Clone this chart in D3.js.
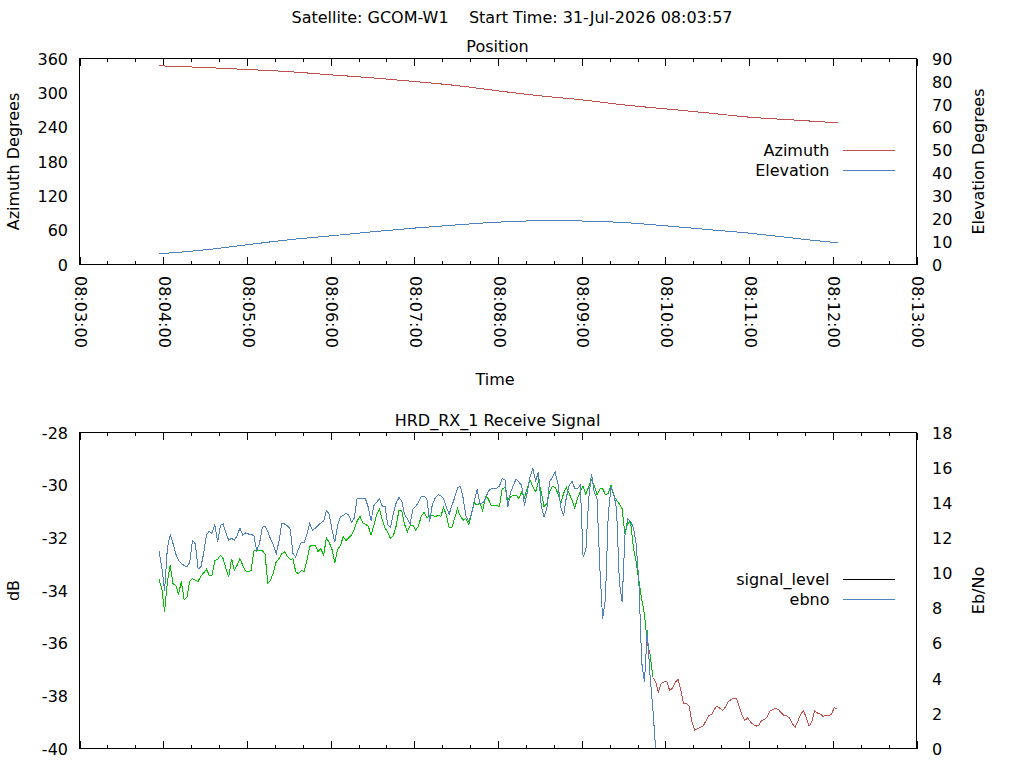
<!DOCTYPE html>
<html><head><meta charset="utf-8">
<script src="https://cdn.jsdelivr.net/npm/d3@7"></script>
<style>
html,body{margin:0;padding:0;background:#fff;}
svg text{font-family:"DejaVu Sans",sans-serif;font-size:16px;fill:#000;}
</style></head><body>
<svg id="chart" width="1024" height="768"></svg>
<script>
// ---------------- DATA ----------------
const chartTitle = "Satellite: GCOM-W1    Start Time: 31-Jul-2026 08:03:57";
const passDate = "2026-07-31";
const timeDomain = ["08:03:00", "08:13:00"];

// Position panel
const positionTitle = "Position";
const positionTimes = ["08:03:57","08:04:00","08:04:30","08:05:00","08:05:30","08:06:00","08:06:30",
  "08:07:00","08:07:30","08:08:00","08:08:30","08:09:00","08:09:30","08:10:00","08:10:30",
  "08:11:00","08:11:30","08:12:00","08:12:04"];
const azimuth = [347.2, 347.0, 344.3, 340.8, 337.0, 331.5, 326.2, 319.8, 312.8, 303.5,
  294.8, 287.8, 279.0, 272.0, 265.0, 257.5, 252.8, 248.2, 247.6];
const elevation = [4.67, 4.8, 6.4, 8.6, 10.8, 12.5, 14.3, 15.9, 17.3, 18.5,
  19.1, 19.0, 18.35, 16.9, 15.3, 13.7, 11.65, 9.7, 9.5];
const azimuthTicks = [0, 60, 120, 180, 240, 300, 360];
const elevationTicks = [0, 10, 20, 30, 40, 50, 60, 70, 80, 90];

// Receive signal panel (one sample every 2 s from 08:03:57)
const signalTitle = "HRD_RX_1 Receive Signal";
const signalStartTime = "08:03:57";
const sampleStepSeconds = 2;
const signalLevel = [
  -33.58, -33.93, -34.80, -33.67, -33.04, -33.74, -33.80, -34.15, -33.65, -34.34,
  -34.27, -33.65, -33.55, -33.61, -33.65, -33.46, -33.33, -33.19, -33.42, -33.42,
  -32.87, -32.82, -32.66, -32.79, -33.17, -33.48, -32.79, -33.23, -33.04, -32.79,
  -33.04, -33.25, -33.29, -33.25, -32.50, -32.49, -32.47, -32.49, -32.62, -33.73,
  -33.61, -33.32, -32.91, -32.79, -32.60, -32.53, -32.70, -32.82, -32.79, -33.29,
  -33.36, -33.25, -33.27, -32.87, -32.32, -32.29, -32.28, -32.53, -32.41, -32.66,
  -31.99, -32.18, -32.44, -32.95, -32.44, -32.30, -31.96, -32.10, -32.00, -31.89,
  -31.67, -31.37, -31.18, -31.42, -31.49, -31.55, -31.90, -31.52, -31.14, -30.91,
  -31.33, -31.62, -31.80, -32.03, -31.92, -31.55, -30.95, -30.95, -31.48, -31.77,
  -31.55, -31.52, -31.71, -31.55, -31.17, -31.04, -31.24, -31.15, -31.14, -31.20,
  -31.14, -31.18, -30.85, -31.14, -31.62, -31.61, -31.24, -30.89, -31.18, -31.33,
  -31.27, -31.50, -31.12, -30.67, -30.76, -30.67, -30.98, -30.43, -30.51, -30.76,
  -30.76, -30.76, -30.82, -30.13, -30.09, -30.57, -30.44, -30.38, -30.38, -30.51,
  -30.25, -30.47, -30.10, -29.81, -30.06, -30.25, -29.85, -30.25, -30.82, -30.70,
  -30.25, -30.05, -30.09, -30.32, -30.70, -30.32, -30.08, -30.32, -30.55, -30.86,
  -30.51, -30.23, -30.04, -30.34, -30.06, -29.79, -30.00, -30.36, -30.15, -30.13,
  -30.36, -30.32, -30.00, -30.41, -30.57, -30.72, -30.89, -31.87, -31.46, -31.37,
  -32.34, -32.91, -33.63, -34.33, -34.90, -36.00, -36.40, -37.30, -37.47, -37.85,
  -37.53, -37.47, -37.46, -37.79, -37.72, -37.50, -37.37, -37.76, -38.29, -38.29,
  -38.38, -38.99, -39.31, -39.24, -39.20, -39.15, -38.96, -38.74, -38.72, -38.52,
  -38.39, -38.47, -38.56, -38.42, -38.23, -38.14, -38.10, -38.10, -38.42, -38.74,
  -38.93, -38.83, -38.99, -39.09, -39.15, -39.12, -38.93, -38.90, -38.80, -38.57,
  -38.52, -38.48, -38.52, -38.64, -38.74, -38.76, -38.84, -39.05, -39.20, -38.95,
  -38.70, -38.57, -38.83, -39.15, -38.99, -38.57, -38.65, -38.69, -38.78, -38.74,
  -38.74, -38.71, -38.45, -38.48
];
const ebno = [
  11.22, 10.33, 9.00, 11.43, 12.17, 11.69, 11.09, 10.71, 10.55, 10.42,
  10.33, 10.61, 11.85, 11.66, 10.23, 10.33, 11.12, 12.17, 12.38, 12.26,
  12.76, 11.75, 12.70, 12.79, 12.26, 11.85, 11.98, 11.85, 12.13, 12.55,
  12.17, 12.28, 12.22, 12.19, 12.13, 11.28, 11.66, 12.60, 12.66, 12.36,
  11.92, 11.60, 11.09, 11.81, 12.83, 12.79, 12.68, 12.51, 11.12, 10.90,
  11.37, 11.75, 11.75, 12.19, 12.83, 12.43, 12.55, 12.70, 12.85, 12.95,
  13.55, 13.36, 12.45, 11.75, 12.70, 13.20, 13.27, 13.42, 13.29, 12.89,
  13.12, 14.26, 14.26, 14.24, 14.22, 13.74, 12.98, 13.83, 14.03, 14.22,
  13.81, 13.81, 12.74, 12.60, 13.42, 13.99, 14.29, 14.12, 13.34, 13.08,
  12.79, 13.65, 13.79, 14.03, 14.37, 14.37, 14.22, 12.93, 13.93, 14.26,
  14.45, 14.41, 14.22, 13.74, 13.36, 13.84, 14.31, 14.84, 14.94, 14.27,
  13.27, 12.95, 13.36, 14.12, 14.75, 13.97, 13.99, 14.22, 14.67, 14.79,
  14.83, 14.83, 14.94, 15.36, 15.32, 13.74, 14.60, 14.98, 15.36, 15.17,
  14.98, 13.84, 14.60, 15.51, 15.93, 15.26, 15.74, 13.84, 13.17, 13.65,
  15.21, 15.45, 15.74, 15.07, 13.74, 13.27, 14.31, 14.98, 15.22, 14.83,
  14.79, 15.02, 10.90, 11.30, 14.22, 15.64, 14.60, 14.22, 10.30, 7.40,
  8.50, 13.27, 14.88, 14.50, 13.65, 9.47, 8.33, 12.13, 13.08, 12.93,
  12.60, 11.66, 9.47, 4.92, 3.78, 6.72, 4.16, 2.26, 0
];
// receiver lock state changes (colours the signal_level trace)
const lockChanges = [
  { time: "08:03:57", locked: true },
  { time: "08:09:47", locked: false },
  { time: "08:09:49", locked: true },
  { time: "08:09:51", locked: false }
];
const dbTicks = [-40, -38, -36, -34, -32, -30, -28];
const ebnoTicks = [0, 2, 4, 6, 8, 10, 12, 14, 16, 18];

// ---------------- STYLE ----------------
const RED = "#c0504d", BLUE = "#4f81bd", GREEN = "#00c000";

// ---------------- DRAW ----------------
const svg = d3.select("#chart");
svg.append("rect").attr("width", 1024).attr("height", 768).attr("fill", "#fff");
const parseT = t => new Date(`${passDate}T${t}Z`);
const fmt = d3.utcFormat("%H:%M:%S");

const L = 79.5, R = 916.5;
const x = d3.scaleUtc().domain(timeDomain.map(parseT)).range([L, R]);

svg.append("text").attr("x", 512).attr("y", 23).attr("text-anchor", "middle")
  .style("white-space", "pre").text(chartTitle);

function panel(top, bottom, title, yl, yr, ylTicks, yrTicks, ylLabel, yrLabel, xLabels) {
  const g = svg.append("g");
  const mid = (L + R) / 2;
  g.append("text").attr("x", mid - 0.5).attr("y", top - 6.5).attr("text-anchor", "middle").text(title);
  const major = d3.utcMinute.every(1), minor = d3.utcSecond.every(20);
  const bAx = g.append("g").attr("transform", `translate(0,${bottom})`)
    .call(d3.axisBottom(x).ticks(minor).tickSizeInner(-3.5).tickSizeOuter(0).tickFormat(""));
  const bAxM = g.append("g").attr("transform", `translate(0,${bottom})`)
    .call(d3.axisBottom(x).ticks(major).tickSizeInner(-7.5).tickSizeOuter(0).tickFormat(xLabels ? fmt : ""));
  const tAx = g.append("g").attr("transform", `translate(0,${top})`)
    .call(d3.axisTop(x).ticks(minor).tickSizeInner(-3.5).tickSizeOuter(0).tickFormat(""));
  const tAxM = g.append("g").attr("transform", `translate(0,${top})`)
    .call(d3.axisTop(x).ticks(major).tickSizeInner(-7.5).tickSizeOuter(0).tickFormat(""));
  [bAx, bAxM, tAx, tAxM].forEach(a => {
    a.select(".domain").remove();
    a.selectAll("line").attr("stroke", "#000").attr("shape-rendering", "crispEdges");
  });
  if (xLabels) {
    bAxM.selectAll("text")
      .attr("x", 0).attr("y", 0).attr("dy", "0.3em")
      .attr("transform", "translate(0,11.5) rotate(90)")
      .attr("text-anchor", "start")
      .attr("fill", "#000");
  }
  bAxM.attr("font-family", null).attr("font-size", null);
  const la = g.append("g").attr("transform", `translate(${L},0)`)
    .call(d3.axisLeft(yl).tickValues(ylTicks).tickSize(0).tickPadding(11.5).tickFormat(v => String(v)));
  const ra = g.append("g").attr("transform", `translate(${R},0)`)
    .call(d3.axisRight(yr).tickValues(yrTicks).tickSize(0).tickPadding(15.5).tickFormat(v => String(v)));
  [la, ra].forEach(a => {
    a.attr("font-family", null).attr("font-size", null);
    a.select(".domain").remove();
    a.selectAll("text").attr("dy", "0.36em").attr("fill", "#000");
  });
  const cy = (top + bottom) / 2;
  g.append("text").attr("transform", `translate(19,${cy}) rotate(-90)`).attr("text-anchor", "middle").text(ylLabel);
  g.append("text").attr("transform", `translate(983.5,${cy}) rotate(-90)`).attr("text-anchor", "middle").text(yrLabel);
  return g;
}
function border(g, top, bottom) {
  g.append("rect").attr("x", L).attr("y", top).attr("width", R - L).attr("height", bottom - top)
    .attr("fill", "none").attr("stroke", "#000").attr("stroke-width", 1);
}
function legend(g, items, y0) {
  items.forEach((it, i) => {
    const yb = y0 + i * 19.5;
    g.append("text").attr("x", 829.5).attr("y", yb).attr("text-anchor", "end").text(it.label);
    g.append("line").attr("x1", 843).attr("x2", 895).attr("y1", yb - 5.5).attr("y2", yb - 5.5)
      .attr("stroke", it.color).attr("stroke-width", 1).attr("shape-rendering", "crispEdges");
  });
}

// ---- Top panel ----
const T1 = 58.5, B1 = 264.5;
const yAz = d3.scaleLinear().domain([0, 360]).range([B1, T1]);
const yEl = d3.scaleLinear().domain([0, 90]).range([B1, T1]);
const p1 = panel(T1, B1, positionTitle, yAz, yEl, azimuthTicks, elevationTicks,
  "Azimuth Degrees", "Elevation Degrees", true);
svg.append("text").attr("x", 495).attr("y", 385).attr("text-anchor", "middle").text("Time");
const posData = positionTimes.map((t, i) => ({ t: parseT(t), az: azimuth[i], el: elevation[i] }));
p1.append("path").datum(posData).attr("fill", "none").attr("stroke", RED).attr("stroke-width", 1)
  .attr("shape-rendering", "crispEdges")
  .attr("d", d3.line().x(d => x(d.t)).y(d => yAz(d.az)).curve(d3.curveMonotoneX));
p1.append("path").datum(posData).attr("fill", "none").attr("stroke", BLUE).attr("stroke-width", 1)
  .attr("shape-rendering", "crispEdges")
  .attr("d", d3.line().x(d => x(d.t)).y(d => yEl(d.el)).curve(d3.curveMonotoneX));
border(p1, T1, B1);
legend(p1, [{ label: "Azimuth", color: RED }, { label: "Elevation", color: BLUE }], 156);

// ---- Bottom panel ----
const T2 = 432.5, B2 = 748.5;
const yDb = d3.scaleLinear().domain([-40, -28]).range([B2, T2]);
const yEb = d3.scaleLinear().domain([0, 18]).range([B2, T2]);
const p2 = panel(T2, B2, signalTitle, yDb, yEb, dbTicks, ebnoTicks, "dB", "Eb/No", false);
const t0 = parseT(signalStartTime).getTime();
const sampleTime = i => new Date(t0 + i * sampleStepSeconds * 1000);
const lockAt = tm => {
  let s = lockChanges[0].locked;
  lockChanges.forEach(c => { if (parseT(c.time).getTime() <= tm.getTime()) s = c.locked; });
  return s;
};
const sig = signalLevel.map((v, i) => ({ t: sampleTime(i), v, locked: lockAt(sampleTime(i)) }));
const runs = [];
for (let i = 0; i < sig.length - 1; i++) {
  const st = sig[i].locked;
  if (!runs.length || runs[runs.length - 1].locked !== st) runs.push({ locked: st, pts: [sig[i]] });
  runs[runs.length - 1].pts.push(sig[i + 1]);
}
const sigLine = d3.line().x(d => x(d.t)).y(d => yDb(d.v));
runs.forEach(r => {
  p2.append("path").datum(r.pts).attr("fill", "none").attr("stroke", r.locked ? GREEN : RED)
    .attr("stroke-width", 1).attr("shape-rendering", "crispEdges").attr("d", sigLine);
});
const ebData = ebno.map((v, i) => ({ t: sampleTime(i), v }));
p2.append("path").datum(ebData).attr("fill", "none").attr("stroke", BLUE).attr("stroke-width", 1)
  .attr("shape-rendering", "crispEdges")
  .attr("d", d3.line().x(d => x(d.t)).y(d => yEb(d.v)));
border(p2, T2, B2);
legend(p2, [{ label: "signal_level", color: "#000" }, { label: "ebno", color: BLUE }], 585);
</script>
</body></html>
